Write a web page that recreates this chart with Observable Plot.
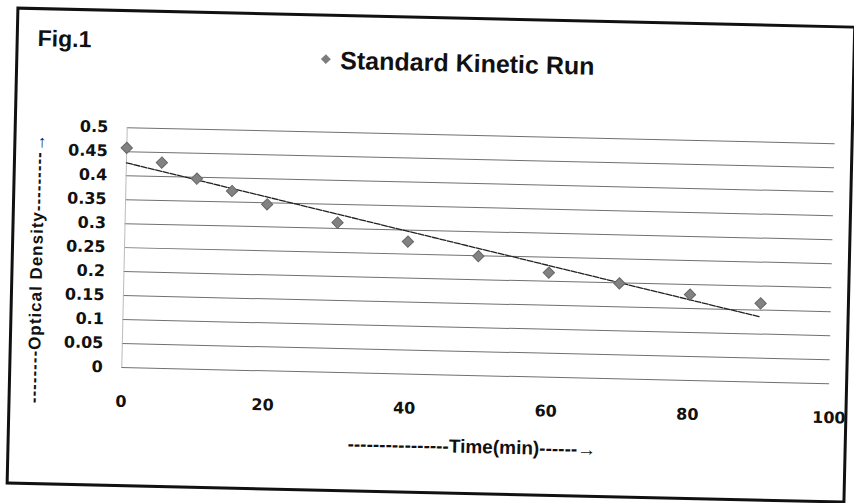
<!DOCTYPE html>
<html>
<head>
<meta charset="utf-8">
<script src="https://cdn.jsdelivr.net/npm/d3@7"></script>
<script src="https://cdn.jsdelivr.net/npm/@observablehq/plot@0.6"></script>
<style>
  html, body { margin: 0; padding: 0; background: #fff; overflow: hidden; }
  #page {
    position: relative; width: 854px; height: 503px; background: #fff;
    transform: rotate(1.3deg); transform-origin: 427px 251.5px;
  }
  #frame {
    position: absolute; left: 11px; top: 16px; width: 840px; height: 478px;
    box-sizing: border-box; border: 3px solid #111;
  }
  .txt { position: absolute; white-space: nowrap; font-family: "Liberation Sans", Arial, sans-serif; font-weight: bold; color: #111; }
  #fig { left: 33px; top: 36px; font-size: 23px; line-height: 1; }
  #title { left: 336px; top: 50px; font-size: 25px; line-height: 1; }
  #legsym { position: absolute; left: 318px; top: 58px; width: 7px; height: 7px; background: #7d7d7d; transform: rotate(45deg); }
  #xlab { left: 352px; top: 436px; font-size: 19px; line-height: 1; }
  #ylab { left: 37px; top: 277px; font-size: 17px; letter-spacing: 1px; line-height: 1; transform: translate(-50%, -50%) rotate(-90deg); }
  #chart { position: absolute; left: 0; top: 0; }
</style>
</head>
<body>
<div id="page">
  <div id="frame"></div>
  <div id="chart"></div>
  <div class="txt" id="fig">Fig.1</div>
  <div id="legsym"></div>
  <div class="txt" id="title">Standard Kinetic Run</div>
  <div class="txt" id="ylab">--------Optical Density---------→</div>
  <div class="txt" id="xlab">----------------Time(min)------→</div>
</div>
<script>
// Data
const timeMin = [0, 5, 10, 15, 20, 30, 40, 50, 60, 70, 80, 90];
const opticalDensity = [0.458, 0.429, 0.397, 0.373, 0.347, 0.312, 0.276, 0.249, 0.218, 0.199, 0.179, 0.164];
const xTicks = [0, 20, 40, 60, 80, 100];
const yTicks = [0, 0.05, 0.1, 0.15, 0.2, 0.25, 0.3, 0.35, 0.4, 0.45, 0.5];

const data = timeMin.map((t, i) => ({ t, od: opticalDensity[i] }));

const chart = Plot.plot({
  width: 854,
  height: 503,
  marginLeft: 124,
  marginRight: 22,
  marginTop: 134,
  marginBottom: 129,
  style: { fontFamily: "'DejaVu Sans', sans-serif", fontWeight: "bold", fontSize: "16px", color: "#111", background: "transparent", overflow: "visible" },
  x: { domain: [0, 100] },
  y: { domain: [0, 0.5] },
  marks: [
    Plot.ruleY(yTicks, { stroke: "#707070", strokeWidth: 1 }),
    Plot.ruleX([0], { y1: 0, y2: 0.5, stroke: "#bbb", strokeWidth: 1 }),
    Plot.axisX(xTicks, { tickSize: 0, tickPadding: 28, label: null, fontSize: 16, fontWeight: "bold", fill: "#111" }),
    Plot.axisY(yTicks, { tickSize: 0, tickPadding: 19, label: null, fontSize: 16, fontWeight: "bold", fill: "#111", tickFormat: d => String(+d.toFixed(2)) }),
    Plot.linearRegressionY(data, { x: "t", y: "od", ci: 0, stroke: "#222", strokeWidth: 1.3, strokeDasharray: "6,1.5" }),
    Plot.dot(data, { x: "t", y: "od", symbol: "square", r: 4.5, rotate: 45, fill: "#828282", stroke: "#666", strokeWidth: 1 })
  ]
});
document.getElementById("chart").appendChild(chart);
</script>
</body>
</html>
